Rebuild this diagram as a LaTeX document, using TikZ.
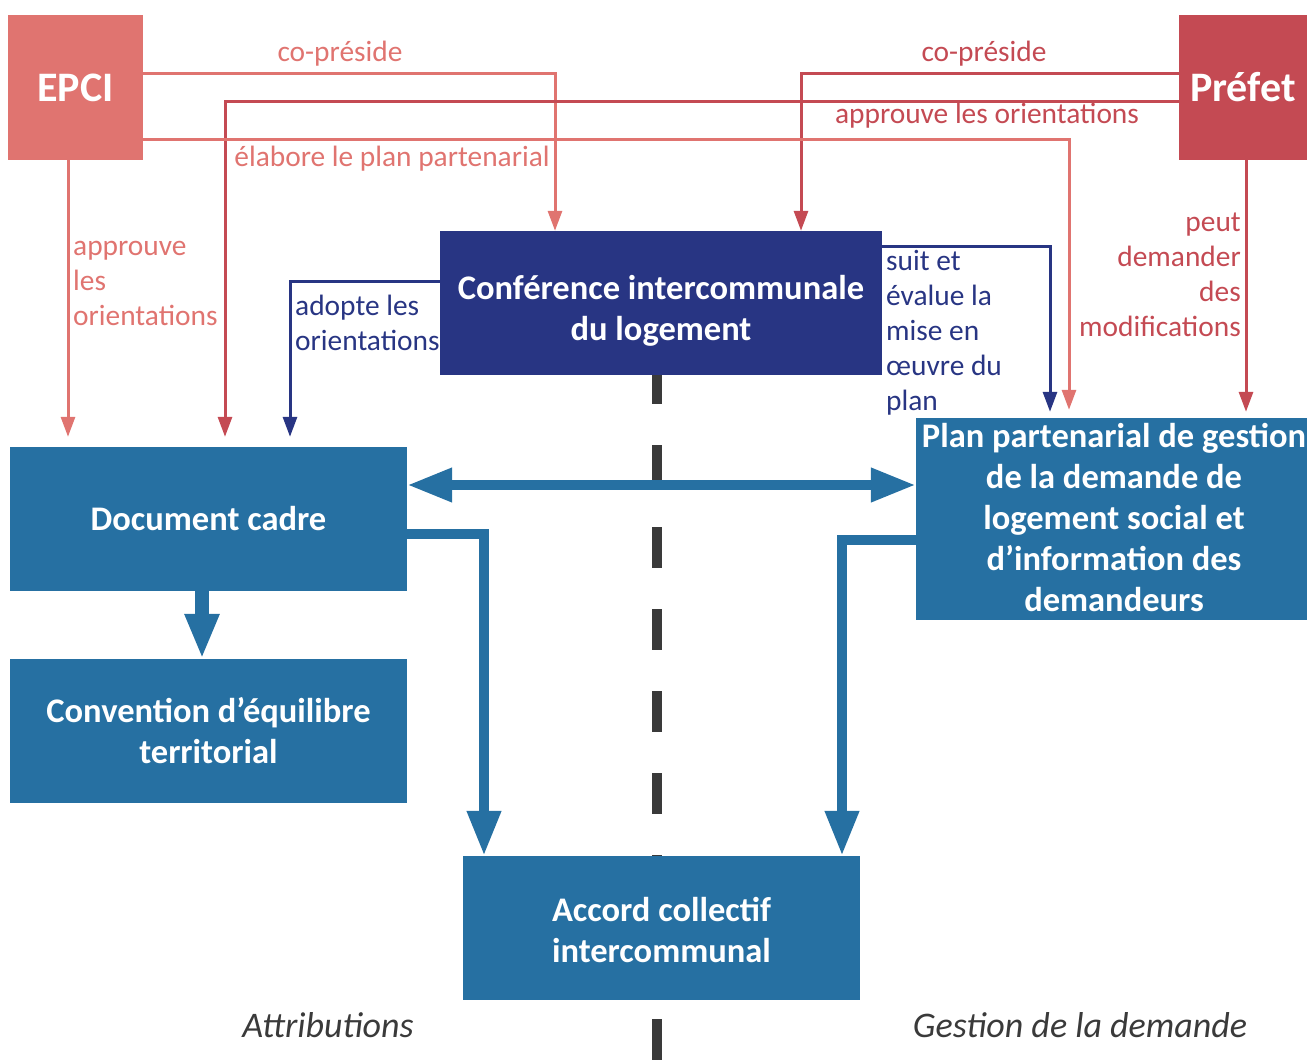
\documentclass[tikz,border=0pt]{standalone}
\usepackage{fontspec}
\setmainfont{Carlito}
\usetikzlibrary{arrows.meta}
\definecolor{epcic}{HTML}{E07470}
\definecolor{prefc}{HTML}{C44A53}
\definecolor{navyc}{HTML}{283583}
\definecolor{bluec}{HTML}{2670A2}
\definecolor{dashc}{HTML}{3A3A3A}
\begin{document}
\begin{tikzpicture}[x=1pt,y=-1pt,
 box/.style={fill=bluec, text=white, font=\bfseries\fontsize{34.5}{41}\selectfont, align=center, inner sep=0pt, minimum width=397pt, minimum height=144pt},
 actor/.style={text=white, font=\bfseries\fontsize{42}{48}\selectfont, inner sep=0pt, minimum height=145pt},
 lab/.style={font=\fontsize{29.4}{35}\selectfont, inner sep=0pt},
 thinarrow/.style={line width=3pt, -{Triangle[length=20pt,width=14pt]}},
 thickarrow/.style={draw=bluec, line width=10pt, -{Triangle[length=45pt,width=32pt]}},
 side/.style={text=dashc, font=\itshape\fontsize{36}{40}\selectfont, inner sep=0pt},
]
\useasboundingbox (0,0) rectangle (1307,1060);
% divider
\coordinate (dtop) at (657,363);
\coordinate (dbot) at (657,1060);
\draw[dashc, line width=10pt, dash pattern=on 41pt off 41pt] (dtop) -- (dbot);

% boxes
\node[actor, fill=epcic, minimum width=135pt] (epci) at (75.5,87.5) {EPCI};
\node[actor, fill=prefc, minimum width=128pt] (prefet) at (1243,87.5) {Préfet};
\node[box, fill=navyc, minimum width=442pt] (conf) at (661,303) {};
\node[box, fill=none, minimum width=0pt, minimum height=0pt] (conftext) at (661,311) {Conférence intercommunale\\du logement};
\node[box] (doc) at (208.5,519) {Document cadre};
\node[box] (conv) at (208.5,731) {Convention d’équilibre\\territorial};
\node[box, minimum width=391pt, minimum height=202pt] (plan) at (1111.5,519) {};
\node[box, fill=none, minimum width=0pt, minimum height=0pt] (plantext) at (1114,517) {Plan partenarial de gestion\\de la demande de\\logement social et\\d’information des\\demandeurs};
\node[box] (accord) at (661.5,928) {};
\node[box, fill=none, minimum width=0pt, minimum height=0pt] (accordtext) at (661.5,930) {Accord collectif\\intercommunal};

% thin connectors
\draw[thinarrow, epcic] (epci.east |- 0,73) -| (555,0 |- conf.north);
\draw[thinarrow, prefc] (prefet.west |- 0,73) -| (801,0 |- conf.north);
\draw[thinarrow, prefc, shorten >=10pt] (prefet.west |- 0,101) -| (225,0 |- doc.north);
\draw[thinarrow, epcic, shorten >=8pt] (epci.east |- 0,139) -| (1069,0 |- plan.north);
\draw[thinarrow, epcic, shorten >=10pt] (68,0 |- epci.south) -- (68,0 |- doc.north);
\draw[thinarrow, prefc, shorten >=6pt] (1246,0 |- prefet.south) -- (1246,0 |- plan.north);
\draw[thinarrow, navyc, shorten >=10pt] (conf.west |- 0,281) -| (290,0 |- doc.north);
\draw[thinarrow, navyc, shorten >=6pt] (conf.east |- 0,246) -| (1050,0 |- plan.north);

% labels
\node[lab, text=epcic] (l1) at (340,54) {co-préside};
\node[lab, text=prefc] (l2) at (984,54) {co-préside};
\node[lab, text=prefc] (l3) at (987,116) {approuve les orientations};
\node[lab, text=epcic] (l4) at (392,159) {élabore le plan partenarial};
\node[lab, text=epcic, align=left, anchor=west] (l5) at (73,283) {approuve\\les\\orientations};
\node[lab, text=prefc, align=right, anchor=east] (l6) at (1241,275) {peut\\demander\\des\\modifications};
\node[lab, text=navyc, align=left, anchor=west] (l7) at (295,323) {adopte les\\orientations};
\node[lab, text=navyc, align=left, anchor=west] (l8) at (886,333) {suit et\\évalue la\\mise en\\œuvre du\\plan};

% thick blue connectors
\draw[thickarrow, {Triangle[length=45pt,width=32pt]}-{Triangle[length=45pt,width=32pt]}] (doc.east |- 0,485) -- (plan.west |- 0,485);
\draw[thickarrow] (doc.east |- 0,534) -| (484,0 |- accord.north);
\draw[thickarrow] (plan.west |- 0,540) -| (842,0 |- accord.north);
\draw[thickarrow, line width=14pt] (202,0 |- doc.south) -- (202,0 |- conv.north);

% side captions
\node[side] (attr) at (328,1025) {Attributions};
\node[side] (gest) at (1080,1025) {Gestion de la demande};
\end{tikzpicture}
\end{document}
